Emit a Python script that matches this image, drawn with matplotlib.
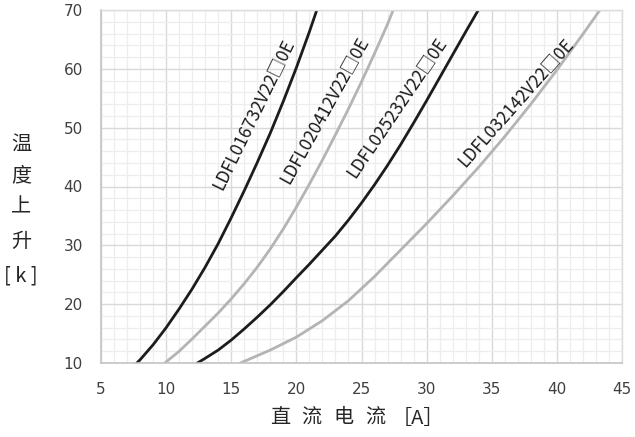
import matplotlib
matplotlib.use("Agg")
import matplotlib.pyplot as plt
from matplotlib.ticker import MultipleLocator

# DC current [A] vs temperature rise [k]
x_016732 = [7.75, 8, 9, 10, 11, 12, 13, 14, 15, 16, 17, 18, 19, 20, 21, 21.6]
y_016732 = [10, 10.55, 13.1, 16.0, 19.2, 22.6, 26.3, 30.3, 34.7, 39.3, 44.1, 49.1, 54.5, 60.2, 66.3, 70.2]

x_020412 = [9.9, 11, 12, 13, 14, 15, 16, 17, 18, 19, 20, 21, 22, 23, 24, 25, 26, 27, 27.4]
y_020412 = [10, 12.0, 14.1, 16.3, 18.5, 20.9, 23.5, 26.3, 29.4, 32.8, 36.5, 40.4, 44.5, 48.8, 53.2, 57.8, 62.6, 67.6, 69.8]

x_025232 = [12.4, 13, 14, 15, 16, 17, 18, 19, 20, 21, 22, 23, 24, 25, 26, 27, 28, 29, 30, 31, 32, 33, 34.05]
y_025232 = [10, 10.8, 12.2, 13.9, 15.8, 17.8, 19.9, 22.15, 24.5, 26.8, 29.2, 31.6, 34.3, 37.2, 40.3, 43.6,
            47.1, 50.8, 54.6, 58.5, 62.4, 66.3, 70.3]

x_032142 = [15.7, 18, 20, 22, 24, 26, 28, 30, 32, 34, 36, 38, 40, 42, 43.4]
y_032142 = [10, 12.2, 14.4, 17.2, 20.6, 24.7, 29.2, 33.7, 38.4, 43.3, 48.5, 54.0, 59.8, 65.9, 70.3]

names = ["LDFL016732V22□0E", "LDFL020412V22□0E", "LDFL025232V22□0E", "LDFL032142V22□0E"]
xs = [x_016732, x_020412, x_025232, x_032142]
ys = [y_016732, y_020412, y_025232, y_032142]
colors = ["#1c1c1c", "#b4b4b4", "#1c1c1c", "#b4b4b4"]
# label centre (current, rise) and angle
label_pos = [(16.65, 52.3, 64), (22.1, 53.0, 61), (27.7, 53.5, 56), (36.8, 54.3, 48.5)]

x_label_chars = ["直", "流", "电", "流", "［A］"]
x_label_px = [280, 311, 343.5, 375, 418]
y_label_chars = ["温", "度", "上", "升", "[ k ]"]
y_label_px = [144, 176, 207, 241, 276]

cjk = ["Noto Sans CJK SC", "DejaVu Sans"]
W, H = 635, 437

fig = plt.figure(figsize=(6.35, 4.37), dpi=100)
ax = fig.add_axes([101 / W, 1 - 363 / H, 521 / W, 353 / H])

ax.set_xlim(5, 45)
ax.set_ylim(10, 70)
ax.xaxis.set_major_locator(MultipleLocator(5))
ax.xaxis.set_minor_locator(MultipleLocator(1))
ax.yaxis.set_major_locator(MultipleLocator(10))
ax.yaxis.set_minor_locator(MultipleLocator(2))
ax.grid(which="major", color="#d9d9d9", linewidth=1.0)
ax.grid(which="minor", color="#ededed", linewidth=0.9)
ax.set_axisbelow(True)
ax.tick_params(which="both", length=0, labelsize=11, labelcolor="#404040")
ax.tick_params(axis="y", pad=13)
ax.tick_params(axis="x", pad=14)
for side in ["left", "bottom"]:
    ax.spines[side].set_color("#c4c4c4")
    ax.spines[side].set_linewidth(1.2)
for side in ["top", "right"]:
    ax.spines[side].set_color("#dcdcdc")
    ax.spines[side].set_linewidth(1.0)

for x, y, col, name, (lx, ly, ang) in zip(xs, ys, colors, names, label_pos):
    ax.plot(x, y, color=col, linewidth=2.0, solid_joinstyle="round")
    ax.text(lx, ly, name, rotation=ang, rotation_mode="anchor", ha="center", va="center",
            fontsize=12.5, color="#1a1a1a", family=cjk)

for ch, px in zip(x_label_chars, x_label_px):
    fig.text(px / W, 1 - 418 / H, ch, ha="center", va="center",
             fontsize=14.5, color="#262626", family=cjk)
for ch, py in zip(y_label_chars, y_label_px):
    fig.text(21 / W, 1 - py / H, ch, ha="center", va="center",
             fontsize=14.5, color="#262626", family=cjk)

fig.savefig("out.png", dpi=100)
